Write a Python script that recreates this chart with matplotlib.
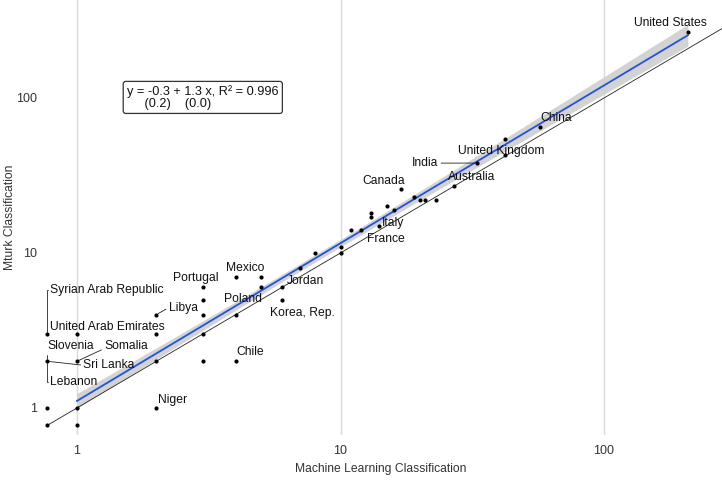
import numpy as np
import matplotlib.pyplot as plt

plt.rcParams['font.family'] = ['Liberation Sans', 'DejaVu Sans']

# zero counts sit just left of 1 on the log axes
ZERO = 0.77

ml_counts = [ZERO, ZERO, ZERO, ZERO, 1, 1, 1, 1, 2, 2, 2, 2, 3, 3, 3, 3, 3,
             4, 4, 4, 5, 5, 6, 6, 7, 8, 10, 10, 11, 12, 13, 13, 14, 15, 16,
             17, 19, 20, 21, 23, 27, 33, 42, 42, 57, 208]
mturk_counts = [ZERO, 1, 2, 3, ZERO, 1, 2, 3, 1, 2, 3, 4, 2, 3, 4, 5, 6,
                2, 4, 7, 6, 7, 5, 6, 8, 10, 10, 11, 14, 14, 17, 18, 15, 20, 19,
                26, 23, 22, 22, 22, 27, 38, 43, 54, 65, 267]

countries = ['United States', 'China', 'United Kingdom', 'India', 'Australia',
             'Canada', 'Italy', 'France', 'Mexico', 'Jordan', 'Poland',
             'Korea, Rep.', 'Portugal', 'Libya', 'Chile', 'Niger',
             'Syrian Arab Republic', 'United Arab Emirates', 'Slovenia',
             'Somalia', 'Sri Lanka', 'Lebanon']
country_ml = [208, 57, 42, 33, 27, 17, 14, 12, 4, 6, 4, 6, 3, 2, 4, 2,
              ZERO, 1, ZERO, 1, ZERO, ZERO]
country_mturk = [267, 65, 54, 38, 27, 26, 15, 14, 7, 6, 4, 5, 6, 4, 2, 1,
                 3, 3, 2, 2, 2, 2]

# fitted line as drawn (log10 space), and band half-width at the top end
fit_intercept = 0.045
fit_slope = 1.018
band_top = 0.07

equation = 'y = -0.3 + 1.3 x, R\u00b2 = 0.996\n     (0.2)    (0.0)'

# label offsets from the point, in pixels (right, up)
label_offsets = [(-17, 9), (17, 9), (-4, -12), (-52, 0), (17, 9), (-18, 8),
                 (14, 3), (24, -9), (10, 9), (23, 6), (7, 16), (20, -13),
                 (-7, 9), (27, 7), (15, 9), (16, 8), (60, 44), (30, 7),
                 (24, 15), (49, 15), (62, -4), (27, -21)]
straight_seg = {'India': (1, 0.5), 'Libya': (0, 0.5), 'Somalia': (0, 0.3),
                'Sri Lanka': (0, 0.5)}
bracket_seg = ['Syrian Arab Republic', 'Slovenia', 'Lebanon']

fig = plt.figure(figsize=(7.22, 4.8), dpi=100)
ax = fig.add_axes([0.055, 0.094, 0.945, 0.906])
ax.set_xscale('log')
ax.set_yscale('log')
ax.set_xlim(0.7218, 280.4)
ax.set_ylim(0.6697, 428.8)

x = np.array(ml_counts, dtype=float)
y = np.array(mturk_counts, dtype=float)

# 45 degree line
ax.plot([0.77, 280], [0.77, 280], color='#222222', lw=0.6, zorder=2)

# fitted line with its confidence band (shape from the spread of log x)
mask = (x >= 1) & (y >= 1)
lx = np.log10(x[mask])
grid = np.linspace(lx.min(), lx.max(), 200)
fit = fit_intercept + fit_slope * grid
shape = np.sqrt(1 / len(lx) + (grid - lx.mean()) ** 2 / np.sum((lx - lx.mean()) ** 2))
half = band_top * shape / shape[-1]
ax.fill_between(10 ** grid, 10 ** (fit - half), 10 ** (fit + half),
                color='#cccccc', alpha=0.85, lw=0, zorder=1)
ax.plot(10 ** grid, 10 ** fit, color='#2552d9', lw=1.3, zorder=3)

ax.scatter(x, y, s=9, color='black', zorder=4, lw=0)

for name, cx, cy, (dx, dy) in zip(countries, country_ml, country_mturk, label_offsets):
    props = None
    if name in straight_seg:
        props = dict(arrowstyle='-', color='#222222', lw=0.6,
                     relpos=straight_seg[name], shrinkA=0, shrinkB=1.5)
    elif name in bracket_seg:
        props = dict(arrowstyle='-', color='#222222', lw=0.6, relpos=(0, 0.5),
                     connectionstyle='angle,angleA=0,angleB=90,rad=0',
                     shrinkA=0, shrinkB=1.5)
    ax.annotate(name, (cx, cy), xytext=(dx * 0.72, dy * 0.72),
                textcoords='offset points', ha='center', va='center',
                fontsize=8.7, color='#111111', arrowprops=props, zorder=5)

ax.text(0.128, 0.776, equation, transform=ax.transAxes, fontsize=9.2,
        ha='left', va='center', color='#111111', linespacing=0.95,
        bbox=dict(boxstyle='round,pad=0.3,rounding_size=0.2', fc='white',
                  ec='#333333', lw=0.9), zorder=6)

ax.set_xticks([1, 10, 100])
ax.set_xticklabels(['1', '10', '100'])
ax.set_yticks([1, 10, 100])
ax.set_yticklabels(['1', '10', '100'])
ax.minorticks_off()
ax.tick_params(length=0, labelsize=9, colors='#333333')
ax.tick_params(axis='x', pad=7)
ax.tick_params(axis='y', pad=2)
ax.grid(axis='x', color='#dadada', lw=1)
ax.set_axisbelow(True)
for sp in ax.spines.values():
    sp.set_visible(False)

ax.set_xlabel('Machine Learning Classification', fontsize=8.7, color='#333333')
ax.set_ylabel('Mturk Classification', fontsize=8.7, color='#333333')
ax.xaxis.set_label_coords(0.5, -0.064)
ax.yaxis.set_label_coords(-0.035, 0.5)

fig.savefig('out.png', dpi=100)
